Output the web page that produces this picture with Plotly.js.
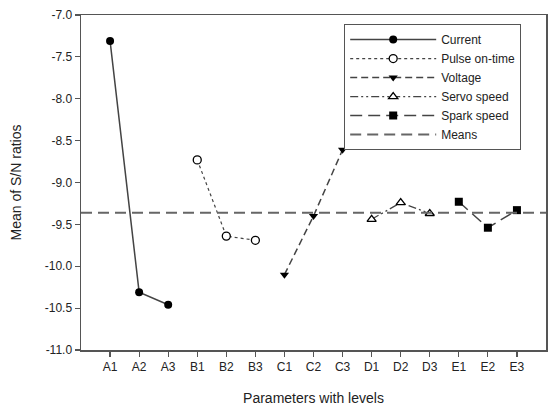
<!DOCTYPE html>
<html><head><meta charset="utf-8">
<script src="https://cdn.plot.ly/plotly-3.0.1.min.js"></script>
<style>html,body{margin:0;padding:0;background:#fff}</style>
</head><body>
<div id="chart" style="width:548px;height:409px"></div>
<script>
const levels = ["A1","A2","A3","B1","B2","B3","C1","C2","C3","D1","D2","D3","E1","E2","E3"];
const currentVals = [-7.31, -10.31, -10.46];
const pulseVals = [-8.73, -9.64, -9.69];
const voltageVals = [-10.10, -9.40, -8.61];
const servoVals = [-9.44, -9.24, -9.37];
const sparkVals = [-9.23, -9.54, -9.33];
const meanVal = -9.36;
const yTickVals = [-7.0,-7.5,-8.0,-8.5,-9.0,-9.5,-10.0,-10.5,-11.0];
const yTickText = ["-7.0","-7.5","-8.0","-8.5","-9.0","-9.5","-10.0","-10.5","-11.0"];

const idx = levels.map((_, i) => i);
const xRange = [-1, levels.length];
const lineCol = '#444';

function series(name, vals, start, dash, width, symbol, fill) {
  return {
    type: 'scatter', mode: 'lines+markers', name: name,
    x: idx.slice(start, start + vals.length), y: vals,
    line: {color: lineCol, width: width, dash: dash},
    marker: {symbol: symbol, size: 8, color: fill, line: {color: '#000', width: fill === '#fff' ? 1.3 : 0}}
  };
}

const data = [
  series('Current', currentVals, 0, 'solid', 1.5, 'circle', '#000'),
  series('Pulse on-time', pulseVals, 3, 'dot', 1.2, 'circle', '#fff'),
  series('Voltage', voltageVals, 6, '7px,4px', 1.5, 'triangle-down', '#000'),
  series('Servo speed', servoVals, 9, '8px,3px,2px,3px,2px,3px', 1.2, 'triangle-up', '#fff'),
  series('Spark speed', sparkVals, 12, '12px,6px', 1.5, 'square', '#000'),
  {type: 'scatter', mode: 'lines', name: 'Means', x: xRange, y: [meanVal, meanVal],
   line: {color: '#666', width: 2, dash: '11px,6px'}}
];

const font = {family: 'Liberation Sans, Arial, sans-serif', color: '#222'};
const layout = {
  width: 548, height: 409,
  margin: {l: 81, r: 2, t: 15, b: 59},
  paper_bgcolor: '#fff', plot_bgcolor: '#fff',
  font: Object.assign({size: 12}, font),
  showlegend: true,
  legend: {x: 0.566, y: 0.973, xanchor: 'left', yanchor: 'top',
           bordercolor: '#555', borderwidth: 1, bgcolor: '#fff',
           font: Object.assign({size: 12}, font), itemwidth: 86, tracegroupgap: 0},
  xaxis: {range: xRange, tickvals: idx, ticktext: levels, showgrid: false, zeroline: false,
          showline: true, linecolor: '#555', linewidth: 1.5, mirror: true,
          ticks: 'outside', ticklen: 5, tickcolor: '#555', tickwidth: 1.2,
          tickfont: Object.assign({size: 12}, font),
          title: {text: 'Parameters with levels', font: Object.assign({size: 14}, font), standoff: 20}},
  yaxis: {range: [-11, -7], tickvals: yTickVals, ticktext: yTickText, showgrid: false, zeroline: false,
          showline: true, linecolor: '#555', linewidth: 1.5, mirror: true,
          ticks: 'outside', ticklen: 5, tickcolor: '#555', tickwidth: 1.2,
          tickfont: Object.assign({size: 12}, font),
          title: {text: 'Mean of S/N ratios', font: Object.assign({size: 14}, font), standoff: 20}}
};
Plotly.newPlot('chart', data, layout, {displayModeBar: false, staticPlot: true});
</script>
</body></html>
